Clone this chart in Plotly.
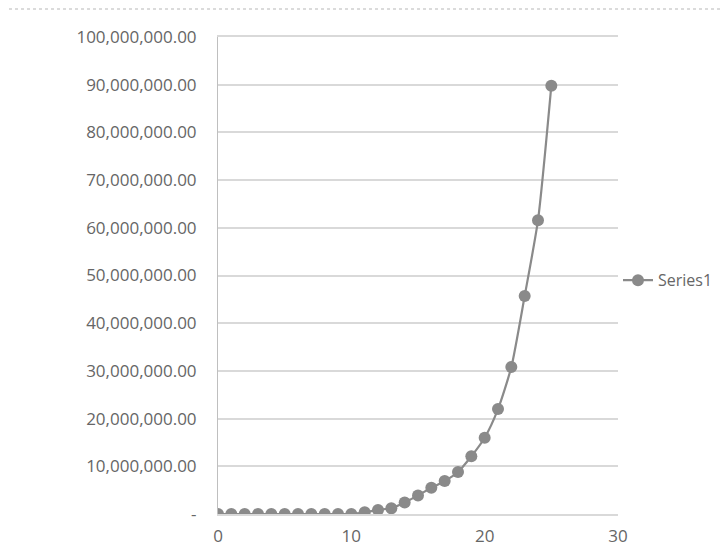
import plotly.graph_objects as go

x_values = list(range(0, 26))
y_values = [0, 0, 0, 0, 0, 0, 0, 0, 0, 0, 0,
            350000, 850000, 1200000, 2400000, 3900000, 5500000, 6900000,
            8800000, 12100000, 16000000, 22000000, 30800000, 45700000,
            61600000, 89800000]
series_name = "Series1"

y_tick_vals = [0, 10e6, 20e6, 30e6, 40e6, 50e6, 60e6, 70e6, 80e6, 90e6, 100e6]
y_tick_text = ["-", "10,000,000.00", "20,000,000.00", "30,000,000.00",
               "40,000,000.00", "50,000,000.00", "60,000,000.00",
               "70,000,000.00", "80,000,000.00", "90,000,000.00",
               "100,000,000.00"]
x_tick_vals = [0, 10, 20, 30]

fig = go.Figure()
fig.add_trace(go.Scatter(
    x=x_values, y=y_values, name=series_name,
    mode="lines+markers",
    line=dict(color="#8a8a8a", width=2.2, shape="spline", smoothing=0.6),
    marker=dict(color="#8a8a8a", size=12),
    showlegend=True,
))

fig.update_layout(
    width=728, height=550,
    margin=dict(l=210, r=118, t=29, b=44, autoexpand=False),
    paper_bgcolor="white", plot_bgcolor="white",
    font=dict(family="Open Sans", size=17, color="#666666"),
    showlegend=True,
    legend=dict(x=1.0, xanchor="left", y=0.49, yanchor="middle",
                itemwidth=30, borderwidth=0,
                bgcolor="rgba(0,0,0,0)", font=dict(size=16, color="#666666")),
    shapes=[dict(type="line", xref="paper", yref="paper",
                 x0=-0.5225, x1=1.35, y0=1.0587, y1=1.0587,
                 line=dict(color="#cfcfcf", width=1.5, dash="dot"))],
)
fig.update_yaxes(
    range=[0, 100e6], tickvals=y_tick_vals, ticktext=y_tick_text,
    showgrid=True, gridcolor="#d9d9d9", gridwidth=1.5,
    zeroline=False, showline=True, linecolor="#bfbfbf", linewidth=1,
    ticks="", ticklabelstandoff=17, automargin=False,
)
fig.update_xaxes(
    range=[0, 30], tickvals=x_tick_vals,
    showgrid=False, zeroline=False, showline=True, mirror=True,
    linecolor="#d9d9d9", linewidth=1.5, ticks="", ticklabelstandoff=6,
    automargin=False,
)

fig.write_html("out.html")
